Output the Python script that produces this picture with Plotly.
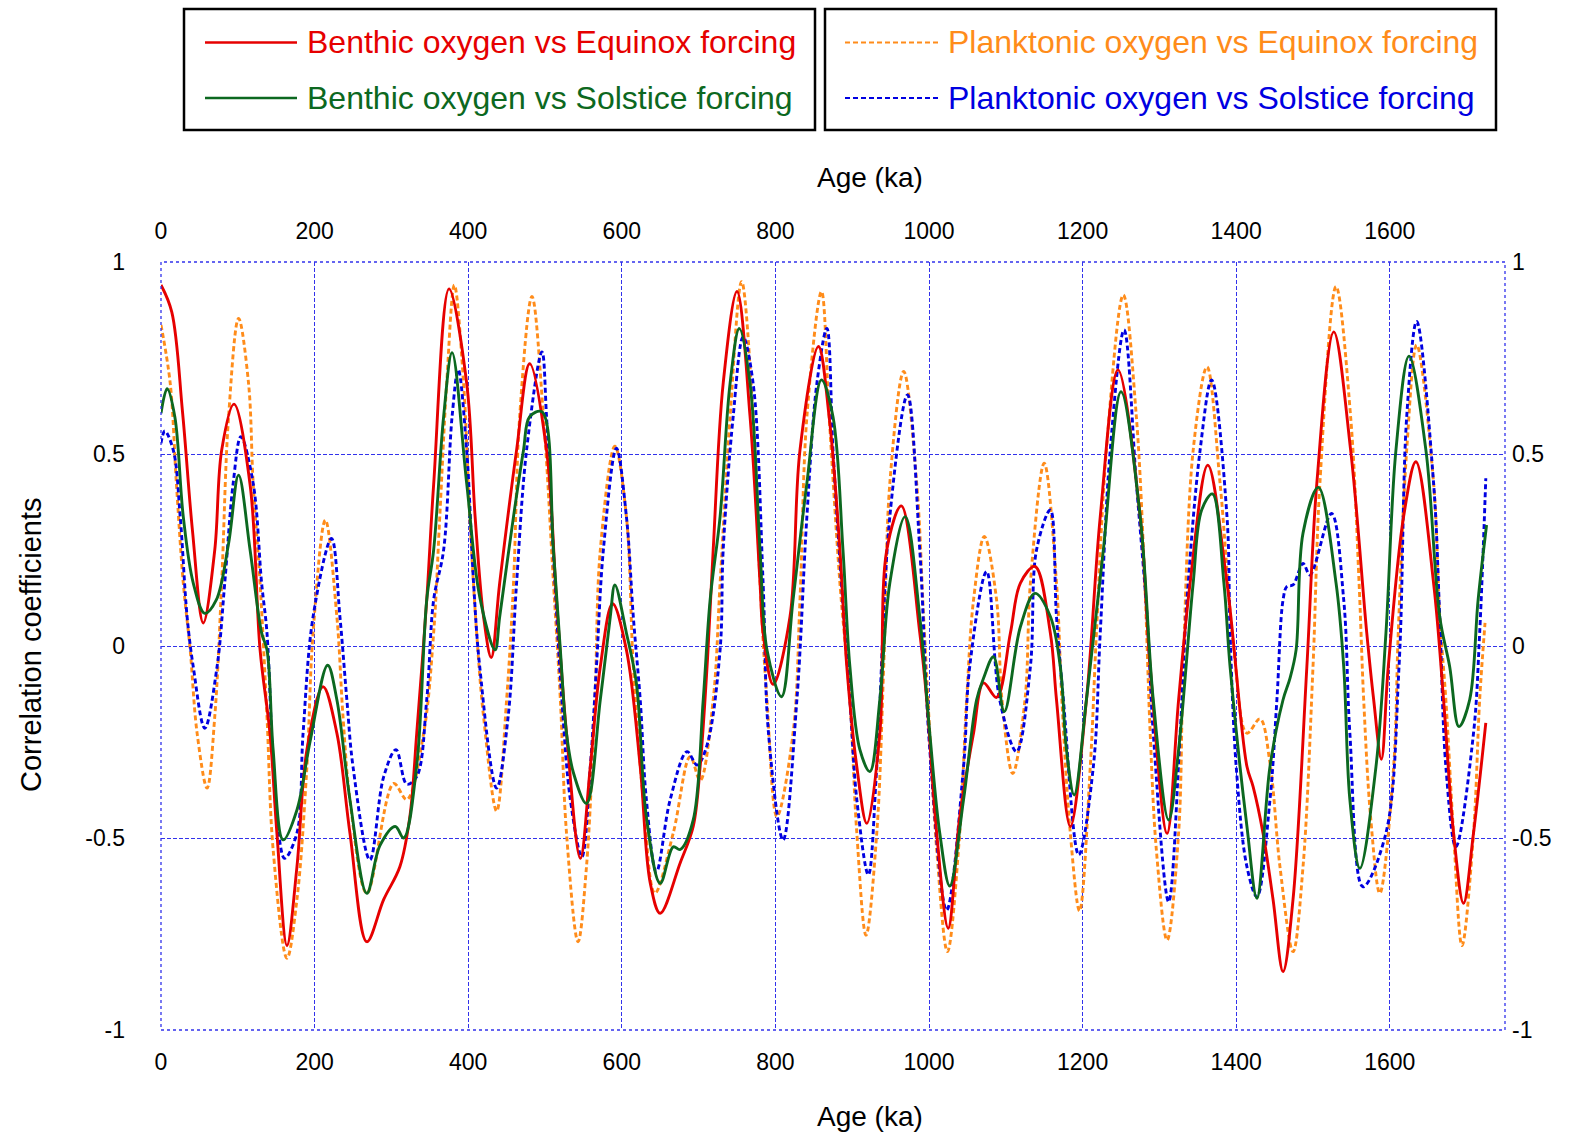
import plotly.graph_objects as go

# Correlation coefficients between oxygen-isotope records and insolation forcing
# (age in ka, coefficient values)

benthic_equinox_age = [0, 14, 28, 41, 55, 70, 79, 95, 116, 129, 142, 151, 164, 177, 190, 211,
                       229, 246, 268, 290, 311, 324, 333, 346, 355, 375, 398, 409, 420, 430,
                       441, 463, 480, 502, 515, 528, 546, 559, 572, 588, 606, 624, 637, 650,
                       676, 693, 702, 711, 719, 732, 750, 767, 780, 784, 797, 819, 832, 856,
                       870, 884, 893, 906, 919, 936, 945, 964, 988, 997, 1010, 1025, 1040,
                       1058, 1071, 1088, 1106, 1119, 1138, 1158, 1166, 1184, 1205, 1223, 1246,
                       1275, 1288, 1310, 1325, 1340, 1363, 1388, 1414, 1422, 1435, 1448, 1461,
                       1474, 1492, 1505, 1527, 1549, 1570, 1579, 1589, 1598, 1618, 1634, 1657,
                       1670, 1683, 1696, 1709, 1725]
benthic_equinox = [0.94, 0.87, 0.61, 0.3, 0.06, 0.25, 0.51, 0.63, 0.42, -0.01, -0.23, -0.49,
                   -0.78, -0.575, -0.27, -0.106, -0.227, -0.487, -0.77, -0.66, -0.575, -0.445,
                   -0.227, 0.12, 0.42, 0.93, 0.685, 0.337, 0.076, -0.03, 0.164, 0.51, 0.735,
                   0.51, 0.12, -0.227, -0.553, -0.314, -0.054, 0.11, -0.01, -0.314, -0.617,
                   -0.696, -0.565, -0.47, -0.314, -0.054, 0.25, 0.684, 0.923, 0.597, 0.164,
                   0.034, -0.10, 0.076, 0.51, 0.78, 0.597, 0.25, -0.054, -0.314, -0.462,
                   -0.227, 0.25, 0.365, 0.034, -0.14, -0.487, -0.735, -0.445, -0.227, -0.096,
                   -0.134, 0.034, 0.164, 0.207, 0.034, -0.14, -0.47, -0.14, 0.337, 0.719,
                   0.337, -0.054, -0.488, -0.14, 0.164, 0.471, 0.164, -0.314, -0.366, -0.488,
                   -0.66, -0.848, -0.66, -0.054, 0.424, 0.818, 0.51, 0.034, -0.14, -0.295,
                   -0.054, 0.337, 0.48, 0.164, -0.14, -0.487, -0.67, -0.487, -0.2]

benthic_solstice_age = [0, 8, 18, 29, 42, 57, 72, 88, 101, 116, 131, 138, 146, 159, 177, 194,
                        217, 229, 246, 268, 285, 305, 316, 333, 346, 355, 368, 379, 398, 415,
                        435, 441, 459, 472, 480, 496, 511, 520, 528, 537, 554, 572, 585, 591,
                        606, 619, 632, 650, 667, 676, 693, 706, 715, 728, 741, 753, 767, 780,
                        789, 808, 823, 841, 860, 875, 888, 897, 910, 923, 936, 949, 969, 988,
                        1001, 1014, 1027, 1045, 1062, 1071, 1084, 1098, 1119, 1138, 1158,
                        1171, 1179, 1189, 1205, 1227, 1250, 1275, 1292, 1312, 1325, 1344,
                        1355, 1369, 1384, 1392, 1414, 1427, 1444, 1461, 1470, 1478, 1487,
                        1507, 1530, 1540, 1548, 1561, 1582, 1595, 1608, 1625, 1647, 1665,
                        1678, 1690, 1704, 1715, 1726]
benthic_solstice = [0.606, 0.67, 0.597, 0.337, 0.164, 0.085, 0.12, 0.267, 0.445, 0.25, 0.034,
                    -0.01, -0.27, -0.505, -0.427, -0.25, -0.05, -0.14, -0.40, -0.644, -0.52,
                    -0.47, -0.50, -0.31, 0.12, 0.25, 0.597, 0.764, 0.424, 0.128, -0.01, 0.076,
                    0.337, 0.51, 0.597, 0.61, 0.25, -0.01, -0.227, -0.33, -0.41, -0.14, 0.076,
                    0.159, 0.034, -0.097, -0.445, -0.618, -0.523, -0.53, -0.453, -0.14, 0.12,
                    0.337, 0.684, 0.827, 0.684, 0.25, -0.01, -0.132, 0.12, 0.424, 0.693,
                    0.597, 0.25, -0.054, -0.27, -0.327, -0.14, 0.164, 0.337, 0.076, -0.227,
                    -0.487, -0.625, -0.40, -0.14, -0.084, -0.028, -0.171, 0.05, 0.137, 0.077,
                    -0.054, -0.27, -0.388, -0.14, 0.25, 0.662, 0.337, -0.14, -0.453, -0.27,
                    0.164, 0.354, 0.396, 0.164, -0.054, -0.47, -0.657, -0.314, -0.14, -0.084,
                    -0.01, 0.294, 0.413, 0.164, -0.054, -0.40, -0.579, -0.314, 0.034, 0.51,
                    0.755, 0.51, 0.076, -0.054, -0.21, -0.14, 0.12, 0.315]

planktonic_equinox_age = [0, 12, 20, 29, 38, 47, 60, 70, 79, 88, 101, 114, 120, 129, 138, 146,
                          164, 177, 190, 198, 214, 229, 237, 246, 268, 303, 320, 342, 355, 363,
                          372, 382, 394, 402, 411, 420, 437, 450, 459, 467, 483, 498, 511, 520,
                          528, 543, 554, 565, 572, 591, 606, 615, 628, 643, 667, 689, 702, 719,
                          728, 741, 756, 771, 780, 789, 802, 823, 832, 841, 860, 870, 884, 897,
                          906, 918, 932, 941, 949, 967, 984, 993, 1001, 1010, 1024, 1040, 1049,
                          1058, 1072, 1088, 1095, 1109, 1125, 1132, 1150, 1166, 1173, 1184,
                          1196, 1210, 1218, 1231, 1253, 1270, 1281, 1288, 1296, 1310, 1325,
                          1331, 1344, 1362, 1379, 1397, 1414, 1431, 1444, 1457, 1474, 1487,
                          1500, 1509, 1530, 1549, 1560, 1566, 1575, 1587, 1605, 1611, 1622,
                          1635, 1657, 1665, 1673, 1683, 1694, 1709, 1717, 1724]
planktonic_equinox = [0.836, 0.684, 0.424, 0.164, -0.01, -0.227, -0.37, -0.184, 0.164, 0.597,
                      0.853, 0.684, 0.424, 0.164, -0.184, -0.53, -0.813, -0.66, -0.314, 0.034,
                      0.328, 0.076, -0.184, -0.40, -0.644, -0.358, -0.40, -0.227, 0.034, 0.337,
                      0.684, 0.94, 0.684, 0.337, 0.034, -0.184, -0.43, -0.14, 0.164, 0.597,
                      0.91, 0.597, 0.164, -0.14, -0.487, -0.77, -0.575, -0.14, 0.25, 0.52,
                      0.337, -0.054, -0.40, -0.644, -0.487, -0.288, -0.35, -0.14, 0.164, 0.597,
                      0.949, 0.597, 0.164, -0.14, -0.444, -0.227, 0.12, 0.597, 0.923, 0.597,
                      0.164, -0.14, -0.487, -0.753, -0.487, -0.054, 0.424, 0.715, 0.424, 0.076,
                      -0.227, -0.53, -0.796, -0.487, -0.14, 0.12, 0.285, 0.12, -0.14, -0.332,
                      -0.14, 0.164, 0.476, 0.164, -0.14, -0.487, -0.69, -0.314, 0.034, 0.51,
                      0.914, 0.597, 0.164, -0.227, -0.53, -0.766, -0.487, -0.054, 0.51, 0.727,
                      0.424, -0.01, -0.227, -0.19, -0.305, -0.575, -0.796, -0.575, -0.054,
                      0.424, 0.936, 0.597, 0.164, -0.14, -0.445, -0.644, -0.314, 0.034, 0.51,
                      0.784, 0.424, 0.076, -0.14, -0.487, -0.78, -0.487, -0.14, 0.06]

planktonic_solstice_age = [0, 5, 16, 25, 34, 42, 57, 73, 83, 94, 104, 120, 131, 138, 146, 153,
                           161, 177, 185, 198, 222, 233, 242, 250, 272, 290, 306, 320, 333, 346,
                           355, 368, 379, 387, 398, 407, 415, 437, 452, 463, 476, 496, 502, 513,
                           522, 533, 548, 559, 567, 576, 593, 606, 615, 624, 632, 645, 663, 685,
                           698, 711, 728, 732, 745, 758, 771, 784, 791, 810, 828, 841, 854, 867,
                           875, 886, 897, 906, 921, 932, 949, 972, 988, 1001, 1023, 1045, 1053,
                           1075, 1092, 1114, 1132, 1140, 1158, 1166, 1175, 1195, 1214, 1223,
                           1236, 1254, 1270, 1284, 1292, 1312, 1327, 1336, 1353, 1368, 1388,
                           1392, 1400, 1414, 1427, 1444, 1453, 1461, 1466, 1474, 1487, 1496,
                           1524, 1540, 1548, 1565, 1595, 1612, 1622, 1635, 1657, 1665, 1673,
                           1686, 1709, 1717, 1725]
planktonic_solstice = [0.528, 0.56, 0.51, 0.337, 0.076, -0.054, -0.214, -0.054, 0.164, 0.424,
                       0.545, 0.424, 0.164, 0.034, -0.314, -0.487, -0.553, -0.487, -0.227,
                       0.076, 0.28, 0.076, -0.14, -0.314, -0.557, -0.34, -0.27, -0.36, -0.34,
                       -0.14, 0.12, 0.25, 0.597, 0.72, 0.51, 0.164, -0.054, -0.37, -0.184,
                       0.164, 0.51, 0.766, 0.597, 0.164, -0.14, -0.40, -0.549, -0.314, -0.054,
                       0.25, 0.515, 0.337, 0.076, -0.14, -0.40, -0.588, -0.40, -0.275, -0.31,
                       -0.258, -0.01, 0.25, 0.597, 0.805, 0.684, 0.164, -0.227, -0.505, -0.14,
                       0.337, 0.684, 0.827, 0.51, 0.164, -0.14, -0.40, -0.596, -0.314, 0.337,
                       0.654, 0.25, -0.27, -0.688, -0.314, -0.054, 0.194, -0.14, -0.275,
                       -0.054, 0.25, 0.354, 0.076, -0.14, -0.544, -0.314, 0.034, 0.51, 0.823,
                       0.424, 0.076, -0.227, -0.666, -0.227, 0.12, 0.51, 0.693, 0.337, 0.034,
                       -0.314, -0.575, -0.653, -0.40, -0.14, 0.12, 0.155, 0.159, 0.215, 0.185,
                       0.345, 0.12, -0.227, -0.627, -0.487, -0.054, 0.597, 0.845, 0.424, 0.076,
                       -0.314, -0.523, -0.227, 0.034, 0.437]

x_ticks = [0, 200, 400, 600, 800, 1000, 1200, 1400, 1600]
y_ticks = [1, 0.5, 0, -0.5, -1]
y_tick_text = ["1", "0.5", "0", "-0.5", "-1"]

RED = "rgb(230,0,0)"
GREEN = "rgb(12,104,32)"
ORANGE = "rgb(255,140,26)"
BLUE = "rgb(0,0,225)"
GRID = "rgb(50,50,235)"
FONT = "Liberation Sans, Arial, sans-serif"
DOTTED = "5px,3px"

series = [
    ("Planktonic oxygen vs Equinox forcing", planktonic_equinox_age, planktonic_equinox, ORANGE, DOTTED),
    ("Planktonic oxygen vs Solstice forcing", planktonic_solstice_age, planktonic_solstice, BLUE, DOTTED),
    ("Benthic oxygen vs Equinox forcing", benthic_equinox_age, benthic_equinox, RED, "solid"),
    ("Benthic oxygen vs Solstice forcing", benthic_solstice_age, benthic_solstice, GREEN, "solid"),
]

fig = go.Figure()
for name, xs, ys, color, dash in series:
    fig.add_trace(go.Scatter(
        x=xs, y=ys, name=name, mode="lines", showlegend=False,
        line=dict(color=color, width=2.9, dash=dash, shape="spline", smoothing=1.0),
    ))

# Figure geometry (pixels)
W, H = 1587, 1137
L, R, T, B = 161, 1505, 262, 1030


def px(x):
    return (x - L) / (R - L)


def py(y):
    return (B - y) / (B - T)


fig.update_layout(
    width=W, height=H,
    margin=dict(l=L, r=W - R, t=T, b=H - B),
    paper_bgcolor="white", plot_bgcolor="white",
    font=dict(family=FONT, color="black"),
    xaxis=dict(range=[0, 1750], tickvals=x_ticks, showgrid=True, gridcolor=GRID,
               gridwidth=1, griddash="4px,2px", zeroline=False, ticks="",
               tickfont=dict(size=23), ticklabelstandoff=16, showline=False),
    xaxis2=dict(range=[0, 1750], tickvals=x_ticks, overlaying="x", side="top",
                anchor="y", showgrid=False, zeroline=False, ticks="",
                tickfont=dict(size=23), ticklabelstandoff=17, showline=False),
    yaxis=dict(range=[-1, 1], tickvals=y_ticks, ticktext=y_tick_text, showgrid=True,
               gridcolor=GRID, gridwidth=1, griddash="4px,2px", zeroline=False,
               ticks="", tickfont=dict(size=23), ticklabelstandoff=35, showline=False),
    yaxis2=dict(range=[-1, 1], tickvals=y_ticks, ticktext=y_tick_text, overlaying="y",
                side="right", anchor="x", showgrid=False, zeroline=False, ticks="",
                tickfont=dict(size=23), ticklabelstandoff=6, showline=False),
)

# invisible trace so the top and right axes are drawn
fig.add_trace(go.Scatter(x=[0, 1750], y=[-1, 1], xaxis="x2", yaxis="y2", mode="markers",
                         marker=dict(opacity=0), showlegend=False, hoverinfo="skip"))

shapes = [
    # plot frame
    dict(type="rect", xref="paper", yref="paper", x0=0, x1=1, y0=0, y1=1,
         line=dict(color=GRID, width=1.3, dash="dot")),
    # legend boxes
    dict(type="rect", xref="paper", yref="paper", x0=px(184), x1=px(815), y0=py(130), y1=py(9),
         line=dict(color="black", width=2.5)),
    dict(type="rect", xref="paper", yref="paper", x0=px(825), x1=px(1496), y0=py(130), y1=py(9),
         line=dict(color="black", width=2.5)),
]

legend_rows = [
    ("Benthic oxygen vs Equinox forcing", RED, "solid", 205, 297, 305, 42.5),
    ("Benthic oxygen vs Solstice forcing", GREEN, "solid", 205, 297, 305, 98),
    ("Planktonic oxygen vs Equinox forcing", ORANGE, DOTTED, 845, 938, 946, 42.5),
    ("Planktonic oxygen vs Solstice forcing", BLUE, DOTTED, 845, 938, 946, 98),
]
annotations = []
for text, color, dash, lx0, lx1, tx, ty in legend_rows:
    shapes.append(dict(type="line", xref="paper", yref="paper", x0=px(lx0), x1=px(lx1),
                       y0=py(ty), y1=py(ty),
                       line=dict(color=color, width=2.3 if dash == "solid" else 2.0,
                                 dash=dash)))
    annotations.append(dict(text=text, xref="paper", yref="paper", x=px(tx), y=py(ty),
                            xanchor="left", yanchor="middle", showarrow=False,
                            font=dict(size=32, color=color, family=FONT)))

# axis titles
annotations += [
    dict(text="Age (ka)", xref="paper", yref="paper", x=px(870), y=py(177),
         xanchor="center", yanchor="middle", showarrow=False, font=dict(size=28)),
    dict(text="Age (ka)", xref="paper", yref="paper", x=px(870), y=py(1116),
         xanchor="center", yanchor="middle", showarrow=False, font=dict(size=28)),
    dict(text="Correlation coefficients", xref="paper", yref="paper", x=px(31), y=py(645),
         xanchor="center", yanchor="middle", showarrow=False, textangle=-90,
         font=dict(size=29)),
]

fig.update_layout(shapes=shapes, annotations=annotations)
fig.write_html("out.html")
